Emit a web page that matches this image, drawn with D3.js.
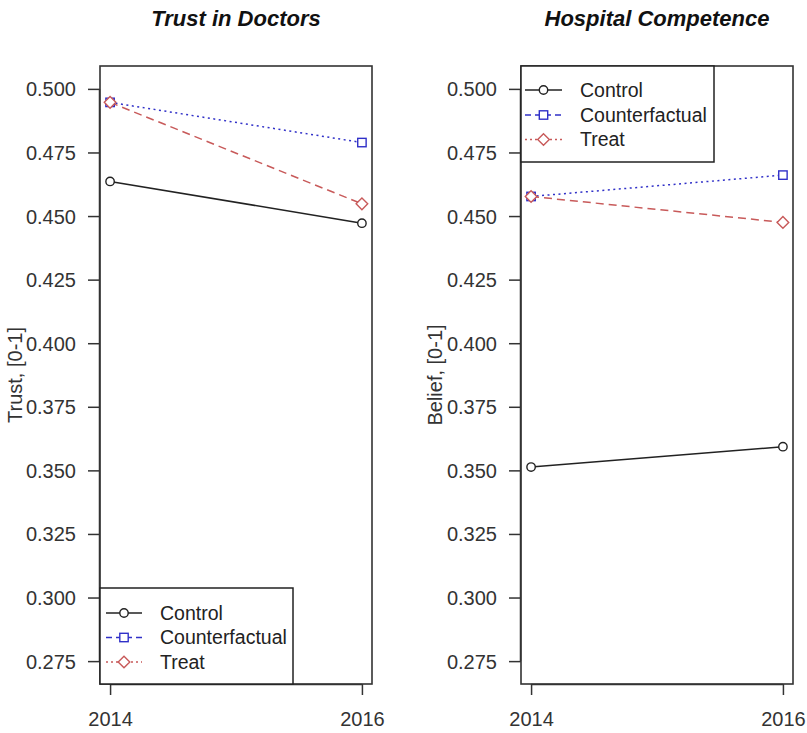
<!DOCTYPE html>
<html>
<head>
<meta charset="utf-8">
<script src="https://cdn.jsdelivr.net/npm/d3@7"></script>
<style>
  html, body { margin: 0; padding: 0; background: #fff; }
  svg { display: block; font-family: "Liberation Sans", Arial, sans-serif; }
</style>
</head>
<body>
<svg id="chart" width="807" height="733"></svg>
<script>
// ---- data ----
const years = [2014, 2016];
const seriesNames = ["Control", "Counterfactual", "Treat"];
const yTicks = [0.275, 0.300, 0.325, 0.350, 0.375, 0.400, 0.425, 0.450, 0.475, 0.500];
const yLimits = [0.275, 0.500];

const trustControl = [0.4636, 0.4472];
const trustCounterfactual = [0.4947, 0.4789];
const trustTreat = [0.4947, 0.4548];

const beliefControl = [0.3513, 0.3593];
const beliefCounterfactual = [0.4577, 0.4661];
const beliefTreat = [0.4577, 0.4475];

const panelTitles = ["Trust in Doctors", "Hospital Competence"];
const panelYLabels = ["Trust, [0-1]", "Belief, [0-1]"];

// ---- styles ----
const seriesStyle = {
  Control:        { color: "#222222", dash: null,  symbol: "circle" },
  Counterfactual: { color: "#3030c8", dash: "2,3.5", symbol: "square" },
  Treat:          { color: "#c85a5a", dash: "8,5", symbol: "diamond" }
};
// legend (as drawn in the original, line styles of the two are swapped)
const legendStyle = {
  Control:        { color: "#222222", dash: null },
  Counterfactual: { color: "#3030c8", dash: "6,4" },
  Treat:          { color: "#c85a5a", dash: "2,3" }
};

const svg = d3.select("#chart");
const plotTop = 66, plotBottom = 684;

const panels = [
  { x0: 100, x1: 372, title: panelTitles[0], ylab: panelYLabels[0],
    series: [trustControl, trustCounterfactual, trustTreat],
    legend: { x0: 100, x1: 293, y0: 588, rows: [613, 637.5, 662], lineX: [106, 142], textX: 160 },
    ylabX: 22 },
  { x0: 521, x1: 793, title: panelTitles[1], ylab: panelYLabels[1],
    series: [beliefControl, beliefCounterfactual, beliefTreat],
    legend: { x0: 521, x1: 714, y0: 66, y1: 162, rows: [90, 115, 139.5], lineX: [525, 562], textX: 580 },
    ylabX: 442 }
];

function ext(lim) { const r = lim[1] - lim[0]; return [lim[0] - 0.04 * r, lim[1] + 0.04 * r]; }

function drawMarker(g, sym, cx, cy, color) {
  if (sym === "circle") {
    g.append("circle").attr("cx", cx).attr("cy", cy).attr("r", 4.2)
      .attr("fill", "#fff").attr("stroke", color).attr("stroke-width", 1.4);
  } else if (sym === "square") {
    g.append("rect").attr("x", cx - 4.2).attr("y", cy - 4.2).attr("width", 8.4).attr("height", 8.4)
      .attr("fill", "#fff").attr("stroke", color).attr("stroke-width", 1.4);
  } else {
    const s = 5.8;
    g.append("path").attr("d", `M${cx},${cy - s}L${cx + s},${cy}L${cx},${cy + s}L${cx - s},${cy}Z`)
      .attr("fill", "#fff").attr("stroke", color).attr("stroke-width", 1.4);
  }
}

panels.forEach(p => {
  const x = d3.scaleLinear().domain(ext([years[0], years[1]])).range([p.x0, p.x1]);
  const y = d3.scaleLinear().domain(ext(yLimits)).range([plotBottom, plotTop]);
  const g = svg.append("g");

  // title
  g.append("text").attr("x", (p.x0 + p.x1) / 2).attr("y", 26)
    .attr("text-anchor", "middle").attr("font-size", 22)
    .attr("font-weight", "bold").attr("font-style", "italic").attr("fill", "#111")
    .text(p.title);

  // y axis
  const yAxis = d3.axisLeft(y).tickValues(yTicks).tickFormat(d3.format(".3f"))
    .tickSize(12).tickPadding(12);
  const ya = g.append("g").attr("transform", `translate(${p.x0},0)`).call(yAxis);
  ya.select(".domain").attr("d", `M-0.5,${y(yTicks[0])}V${y(yTicks[yTicks.length - 1])}`)
    .attr("stroke", "#333").attr("stroke-width", 1.5);
  ya.selectAll(".tick line").attr("stroke", "#333").attr("stroke-width", 1.5);
  ya.selectAll(".tick text").attr("font-size", 20).attr("fill", "#333")
    .attr("font-family", "Liberation Sans, Arial, sans-serif").attr("dy", "0.35em");

  // x axis
  const xAxis = d3.axisBottom(x).tickValues(years).tickFormat(d3.format("d"))
    .tickSize(11).tickPadding(17);
  const xa = g.append("g").attr("transform", `translate(0,${plotBottom})`).call(xAxis);
  xa.select(".domain").attr("d", `M${x(years[0])},0.5H${x(years[1])}`)
    .attr("stroke", "#333").attr("stroke-width", 1.5);
  xa.selectAll(".tick line").attr("stroke", "#333").attr("stroke-width", 1.5);
  xa.selectAll(".tick text").attr("font-size", 20).attr("fill", "#333")
    .attr("font-family", "Liberation Sans, Arial, sans-serif");

  // y label
  g.append("text").attr("transform", `translate(${p.ylabX},${(plotTop + plotBottom) / 2}) rotate(-90)`)
    .attr("text-anchor", "middle").attr("font-size", 20).attr("fill", "#333")
    .text(p.ylab);

  // series lines + markers
  p.series.forEach((vals, i) => {
    const st = seriesStyle[seriesNames[i]];
    const line = d3.line().x((d, j) => x(years[j])).y(d => y(d));
    g.append("path").datum(vals).attr("d", line)
      .attr("fill", "none").attr("stroke", st.color).attr("stroke-width", 1.5)
      .attr("stroke-dasharray", st.dash);
  });
  p.series.forEach((vals, i) => {
    const st = seriesStyle[seriesNames[i]];
    vals.forEach((v, j) => drawMarker(g, st.symbol, x(years[j]), y(v), st.color));
  });

  // plot box
  g.append("rect").attr("x", p.x0).attr("y", plotTop).attr("width", p.x1 - p.x0).attr("height", plotBottom - plotTop)
    .attr("fill", "none").attr("stroke", "#333").attr("stroke-width", 1.6);

  // legend
  const L = p.legend;
  const ly1 = L.y1 !== undefined ? L.y1 : plotBottom;
  g.append("rect").attr("x", L.x0).attr("y", L.y0).attr("width", L.x1 - L.x0).attr("height", ly1 - L.y0)
    .attr("fill", "#fff").attr("stroke", "#222").attr("stroke-width", 1.5);
  seriesNames.forEach((name, i) => {
    const ls = legendStyle[name];
    const cy = L.rows[i];
    g.append("line").attr("x1", L.lineX[0]).attr("x2", L.lineX[1]).attr("y1", cy).attr("y2", cy)
      .attr("stroke", ls.color).attr("stroke-width", 1.5).attr("stroke-dasharray", ls.dash);
    drawMarker(g, seriesStyle[name].symbol, (L.lineX[0] + L.lineX[1]) / 2, cy, ls.color);
    g.append("text").attr("x", L.textX).attr("y", cy).attr("dy", "0.35em")
      .attr("font-size", 19.5).attr("fill", "#222").text(name);
  });
});
</script>
</body>
</html>
